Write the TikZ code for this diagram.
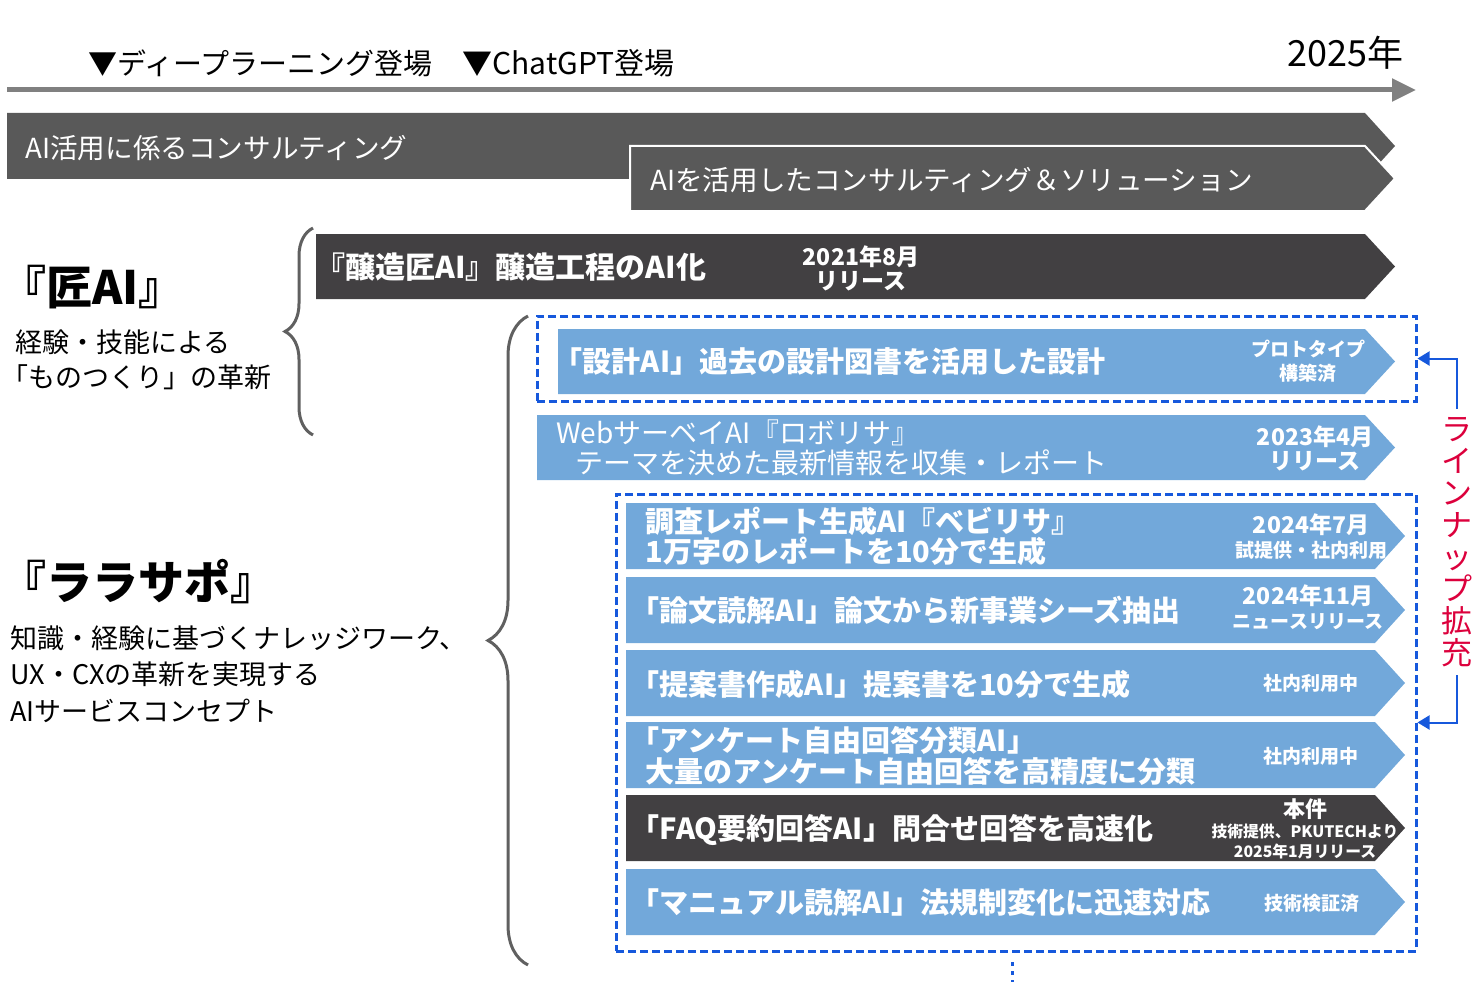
\documentclass[tikz,border=0pt]{standalone}
\usepackage{fontspec}
\setmainfont{Noto Sans CJK JP}
\usetikzlibrary{arrows.meta, decorations.pathreplacing, fit}
\definecolor{graybar}{RGB}{89,89,89}
\definecolor{darkbar}{RGB}{66,64,66}
\definecolor{bluebar}{RGB}{114,168,218}
\definecolor{lineblue}{RGB}{22,88,220}
\definecolor{lineupred}{RGB}{220,0,60}
\definecolor{bracegray}{RGB}{96,96,96}
\definecolor{timegray}{RGB}{128,128,128}
\tikzset{
  headtext/.style  = {anchor=west, inner sep=0pt, font=\fontsize{14.5}{16}\selectfont},
  yeartext/.style  = {anchor=east, inner sep=0pt, font=\fontsize{18}{20}\selectfont},
  toptext/.style   = {anchor=west, inner sep=0pt, text=white, font=\fontsize{13.8}{15}\selectfont},
  bartext/.style   = {anchor=west, inner sep=0pt, text=white, font=\fontsize{14.5}{15.5}\selectfont\bfseries},
  tagtext/.style   = {inner sep=0pt, text=white, align=center, font=\fontsize{9.5}{12}\selectfont\bfseries},
  titletext/.style = {anchor=west, inner sep=0pt, font=\fontsize{23}{26}\selectfont\bfseries},
  desctext/.style  = {anchor=west, inner sep=0pt, align=left, font=\fontsize{13.5}{17.5}\selectfont},
  dashbox/.style   = {draw=lineblue, line width=1.5pt, dash pattern=on 4pt off 2pt, inner sep=0pt},
  bracepath/.style = {draw=bracegray, line width=1.5pt, decorate},
  timeline/.style  = {draw=timegray, line width=2.5pt, -{Triangle[length=12pt, width=11pt]}},
  lineuptext/.style= {text=lineupred, align=center, inner sep=4pt, font=\fontsize{15.5}{16}\selectfont},
  uparrow/.style   = {draw=lineblue, line width=1pt, -{Triangle[length=6pt, width=7pt]}},
  dotline/.style   = {draw=lineblue, line width=1.5pt, dash pattern=on 2pt off 2.5pt},
}

\begin{document}
\begin{tikzpicture}[x=0.5pt, y=-0.5pt]
  \useasboundingbox (0,0) rectangle (1484,990);
  % timeline
  \coordinate (tstart) at (7,90);
  \coordinate (tend) at (1416,90);
  \draw[timeline] (tstart) -- (tend);
  \node[headtext] (deep) at (88,63) {▼ディープラーニング登場};
  \node[headtext, font=\fontsize{15}{16}\selectfont] (gpt) at (462,63) {▼ChatGPT登場};
  \node[yeartext] (year) at (1404,53) {2025年};
  % consulting bars
  \fill[graybar] (7,113) -- (1365,113) -- (1395,146) -- (1365,179) -- (7,179) -- cycle;
  \filldraw[fill=graybar, draw=white, line width=1pt] (630,146) -- (1365,146) -- (1395,178.5) -- (1365,211) -- (630,211) -- cycle;
  \node[toptext] (consult) at (25,148) {AI活用に係るコンサルティング};
  \node[toptext] (solution) at (650,180) {AIを活用したコンサルティング＆ソリューション};
  % takumi AI
  \draw[bracepath, decoration={brace, amplitude=14pt}] (313,435) -- (313,228);
  \node[titletext] (takumi) at (0,287) {『匠AI』};
  \node[desctext] (takumidesc) at (15,360) {経験・技能による\\\hspace*{-.5em}「ものつくり」の革新};
  \fill[darkbar] (316,234) -- (1365,234) -- (1395,266.5) -- (1365,299) -- (316,299) -- cycle;
  \node[bartext, font=\fontsize{15}{16}\selectfont\bfseries] (jozo) at (330,267) {\hspace*{-.5em}『醸造匠AI』醸造工程のAI化};
  \node[tagtext, font=\fontsize{11.5}{12}\selectfont\bfseries] (jozotag) at (861,268) {2021年8月\\リリース};
  % larasapo
  \draw[bracepath, decoration={brace, amplitude=20pt}] (528,965) -- (528,316);
  \node[titletext] (larasapo) at (0,582) {『ララサポ』};
  \node[desctext, font=\fontsize{13.5}{18.2}\selectfont] (larasapodesc) at (10,674) {知識・経験に基づくナレッジワーク、\\UX・CXの革新を実現する\\AIサービスコンセプト};
  \node[dashbox, fit={(537,316) (1416,401)}] (box1) {};
  \fill[bluebar] (558,329) -- (1365,329) -- (1395,361.5) -- (1365,394) -- (558,394) -- cycle;
  \node[bartext] (sekkei) at (568,362) {\hspace*{-.5em}「設計AI」過去の設計図書を活用した設計};
  \node[tagtext] (sekkeitag) at (1308,361) {プロトタイプ\\構築済};
  \fill[bluebar] (537,415) -- (1365,415) -- (1395,447.5) -- (1365,480) -- (537,480) -- cycle;
  \node[toptext, font=\fontsize{14}{15}\selectfont] (robo) at (556,433) {WebサーベイAI『ロボリサ』};
  \node[toptext, font=\fontsize{14}{15}\selectfont] (robodesc) at (575,463) {テーマを決めた最新情報を収集・レポート};
  \node[tagtext, font=\fontsize{11.5}{12}\selectfont\bfseries] (robotag) at (1315,448) {2023年4月\\リリース};
  \node[dashbox, fit={(616,494) (1416,951)}] (box2) {};
  \foreach \ytop/\barcol in {503/bluebar, 577/bluebar, 650/bluebar, 722/bluebar, 795/darkbar, 869/bluebar}
    \fill[\barcol] (626,\ytop) -- (1375,\ytop) -- (1405,\ytop+33) -- (1375,\ytop+66) -- (626,\ytop+66) -- cycle;
  \node[bartext] (chosa) at (645,521) {調査レポート生成AI『ベビリサ』};
  \node[bartext] (chosadesc) at (645,551) {1万字のレポートを10分で生成};
  \node[tagtext] (chosatag) at (1311,537) {{\fontsize{11.5}{12}\selectfont 2024年7月}\\試提供・社内利用};
  \node[bartext] (ronbun) at (645,610) {\hspace*{-.5em}「論文読解AI」論文から新事業シーズ抽出};
  \node[tagtext] (ronbuntag) at (1308,607) {{\fontsize{11.5}{12}\selectfont 2024年11月}\\ニュースリリース};
  \node[bartext] (teian) at (645,684) {\hspace*{-.5em}「提案書作成AI」提案書を10分で生成};
  \node[tagtext] (teiantag) at (1311,683) {社内利用中};
  \node[bartext] (enquete) at (645,740) {\hspace*{-.5em}「アンケート自由回答分類AI」};
  \node[bartext] (enquetedesc) at (645,771) {大量のアンケート自由回答を高精度に分類};
  \node[tagtext] (enquetetag) at (1311,756) {社内利用中};
  \node[bartext] (faq) at (645,830) {\hspace*{-.5em}「FAQ要約回答AI」問合せ回答を高速化};
  \node[tagtext, font=\fontsize{7.9}{10}\selectfont\bfseries] (faqtag) at (1305,829) {{\fontsize{11}{10}\selectfont 本件}\\技術提供、PKUTECHより\\2025年1月リリース};
  \node[bartext] (manual) at (645,903) {\hspace*{-.5em}「マニュアル読解AI」法規制変化に迅速対応};
  \node[tagtext] (manualtag) at (1312,903) {技術検証済};
  \draw[dotline] (1012,962) -- (1012,982);
  % lineup expansion
  \node[lineuptext] (lineup) at (1457,542) {ラ\\イ\\ン\\ナ\\ッ\\プ\\拡\\充};
  \draw[uparrow] (lineup.north) |- (box1.east);
  \draw[uparrow] (lineup.south) |- (box2.east);
\end{tikzpicture}
\end{document}
